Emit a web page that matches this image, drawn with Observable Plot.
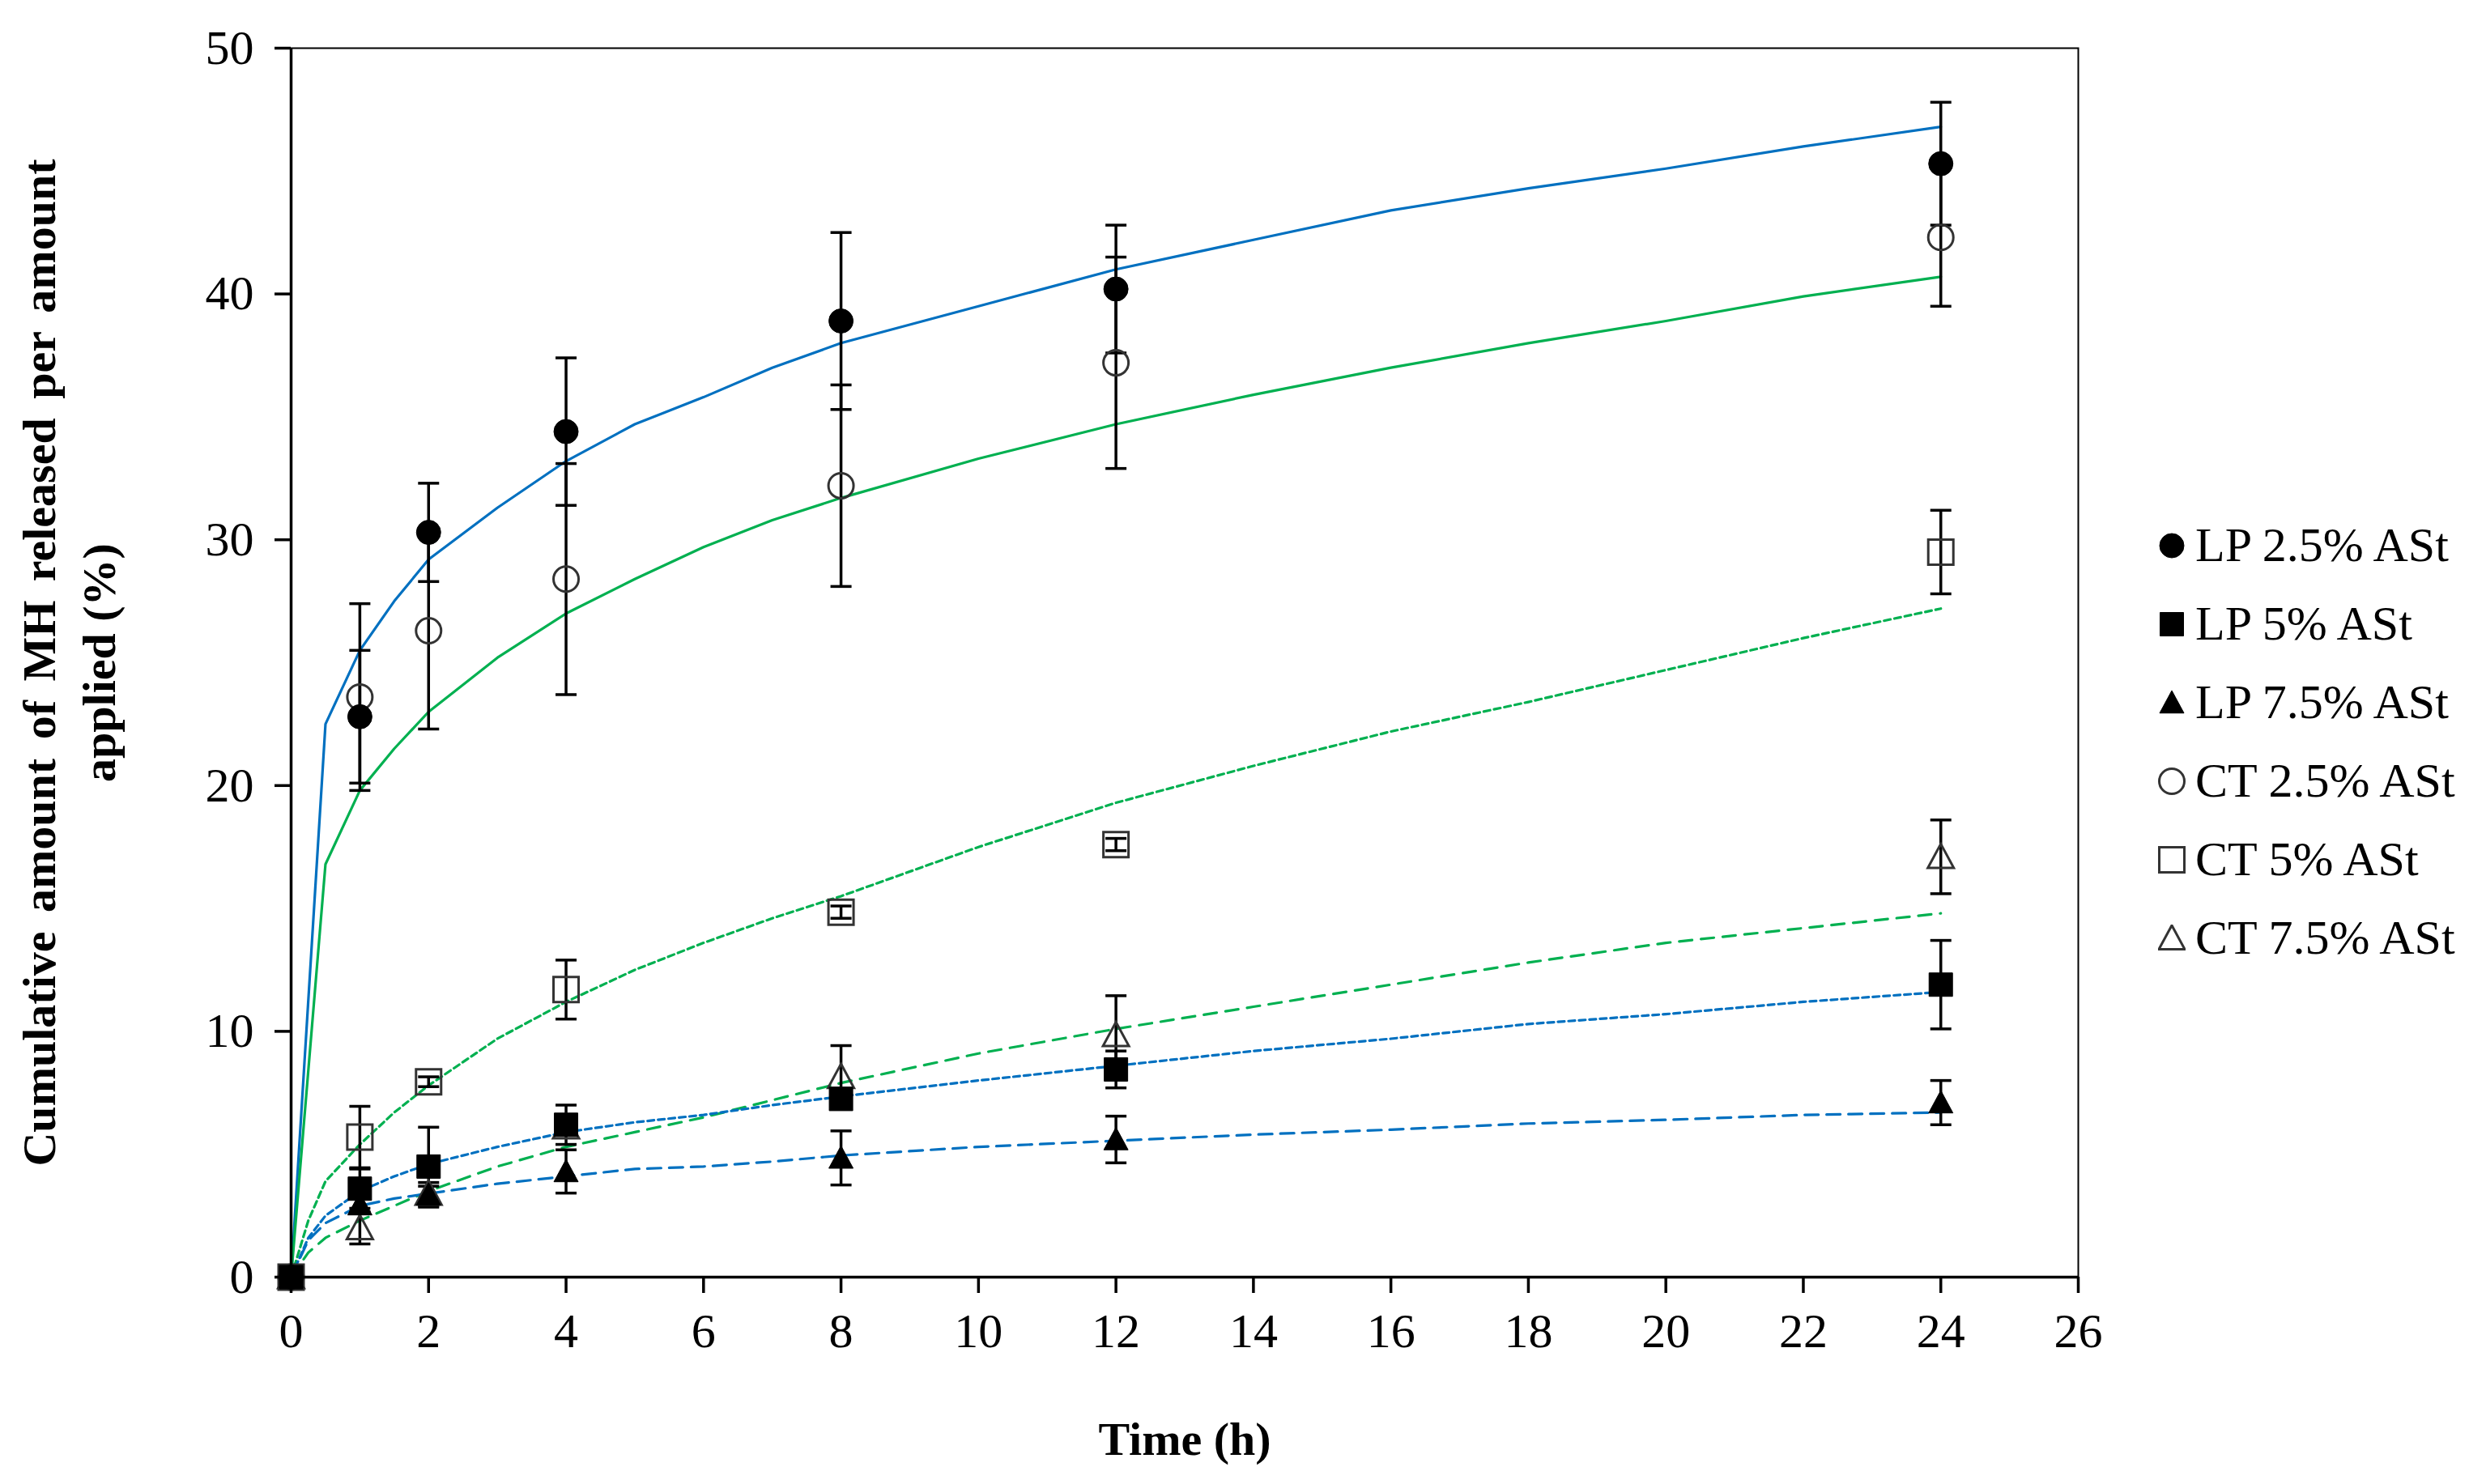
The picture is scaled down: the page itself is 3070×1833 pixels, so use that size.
<!DOCTYPE html>
<html>
<head>
<meta charset="utf-8">
<script src="https://cdn.jsdelivr.net/npm/d3@7"></script>
<script src="https://cdn.jsdelivr.net/npm/@observablehq/plot@0.6"></script>
<style>
  html, body { margin: 0; padding: 0; background: #fff; }
  #wrap { position: relative; width: 3070px; height: 1833px; background: #fff; }
  #chart { position: absolute; left: 0; top: 0; }
  #legend { position: absolute; left: 2665px; top: 625px; font-family: "Liberation Serif", "Times New Roman", serif; font-size: 60px; color: #000; }
  .row { height: 97px; display: flex; align-items: center; white-space: nowrap; }
  .row svg { width: 34px; height: 34px; margin-right: 12px; flex: none; }
</style>
</head>
<body>
<div id="wrap">
  <div id="chart"></div>
  <div id="legend"></div>
</div>
<script>
// ---------- data ----------
const seriesNames = ["LP 2.5% ASt", "LP 5% ASt", "LP 7.5% ASt", "CT 2.5% ASt", "CT 5% ASt", "CT 7.5% ASt"];
const times = [0, 1, 2, 4, 8, 12, 24];

const lp25Mean = [0, 22.8, 30.3, 34.4, 38.9, 40.2, 45.3];
const lp25Sd   = [0, 2.7, 2.0, 3.0, 3.6, 2.6, 2.5];
const lp5Mean  = [0, 3.6, 4.5, 6.2, 7.25, 8.45, 11.9];
const lp5Sd    = [0, 0.8, 1.6, 0.8, 0.4, 0.75, 1.8];
const lp75Mean = [0, 2.95, 3.35, 4.3, 4.85, 5.6, 7.1];
const lp75Sd   = [0, 0.3, 0.5, 0.88, 1.1, 0.95, 0.9];
const ct25Mean = [0, 23.6, 26.3, 28.4, 32.2, 37.2, 42.3];
const ct25Sd   = [0, 3.8, 4.0, 4.7, 4.1, 4.3, 2.8];
const ct5Mean  = [0, 5.7, 7.95, 11.7, 14.85, 17.6, 29.5];
const ct5Sd    = [0, 1.25, 0.2, 1.2, 0.25, 0.25, 1.7];
const ct75Mean = [0, 2.0, 3.4, 6.1, 8.15, 9.85, 17.1];
const ct75Sd   = [0, 0.65, 0.3, 0.3, 1.27, 1.6, 1.5];

// fitted model curves
const solidT = [0, 0.5, 1, 1.5, 2, 3, 4, 5, 6, 7, 8, 10, 12, 14, 16, 18, 20, 22, 24];
const fitLp25 = [0, 22.5, 25.5, 27.5, 29.2, 31.3, 33.2, 34.7, 35.8, 37.0, 38.0, 39.5, 41.0, 42.2, 43.4, 44.3, 45.1, 46.0, 46.8];
const fitCt25 = [0, 16.8, 19.8, 21.5, 23.0, 25.2, 27.0, 28.4, 29.7, 30.8, 31.7, 33.3, 34.7, 35.9, 37.0, 38.0, 38.9, 39.9, 40.7];
const dashT = [0, 0.25, 0.5, 1, 1.5, 2, 3, 4, 5, 6, 7, 8, 10, 12, 14, 16, 18, 20, 22, 24];
const fitCt5  = [0, 2.3, 3.9, 5.4, 6.7, 7.8, 9.7, 11.2, 12.5, 13.6, 14.6, 15.5, 17.5, 19.3, 20.8, 22.2, 23.4, 24.7, 26.0, 27.2];
const fitCt75 = [0, 1.0, 1.6, 2.3, 2.9, 3.5, 4.5, 5.3, 5.9, 6.5, 7.2, 7.9, 9.1, 10.1, 11.0, 11.9, 12.8, 13.6, 14.2, 14.8];
const fitLp5  = [0, 1.6, 2.5, 3.5, 4.1, 4.6, 5.3, 5.9, 6.3, 6.6, 7.0, 7.35, 8.0, 8.6, 9.2, 9.7, 10.3, 10.7, 11.2, 11.6];
const fitLp75 = [0, 1.5, 2.2, 2.9, 3.2, 3.4, 3.8, 4.1, 4.4, 4.5, 4.7, 4.95, 5.3, 5.55, 5.8, 6.0, 6.25, 6.4, 6.6, 6.7];

const xTicks = [0, 2, 4, 6, 8, 10, 12, 14, 16, 18, 20, 22, 24, 26];
const yTicks = [0, 10, 20, 30, 40, 50];
const yTitle1 = "Cumulative amount of MH released per amount";
const yTitle2 = "applied (%)";
const xTitle = "Time (h)";

// ---------- symbols ----------
const symCircle = {draw(ctx, size) { const r = Math.sqrt(size / Math.PI); ctx.moveTo(r, 0); ctx.arc(0, 0, r, 0, 2 * Math.PI); ctx.closePath(); }};
const symSquare = {draw(ctx, size) { const r = Math.sqrt(size / Math.PI); ctx.rect(-r, -r, 2 * r, 2 * r); }};
const symTriangle = {draw(ctx, size) { const r = Math.sqrt(size / Math.PI); ctx.moveTo(0, -r); ctx.lineTo(r, r * 0.85); ctx.lineTo(-r, r * 0.85); ctx.closePath(); }};
const symCap = {draw(ctx, size) { const r = Math.sqrt(size / Math.PI); ctx.moveTo(-r, 0); ctx.lineTo(r, 0); }};

// ---------- build tables ----------
const obsDefs = [
  {name: seriesNames[0], mean: lp25Mean, sd: lp25Sd, sym: symCircle, filled: true, r: 15},
  {name: seriesNames[1], mean: lp5Mean, sd: lp5Sd, sym: symSquare, filled: true, r: 14.5},
  {name: seriesNames[2], mean: lp75Mean, sd: lp75Sd, sym: symTriangle, filled: true, r: 15},
  {name: seriesNames[3], mean: ct25Mean, sd: ct25Sd, sym: symCircle, filled: false, r: 15.5},
  {name: seriesNames[4], mean: ct5Mean, sd: ct5Sd, sym: symSquare, filled: false, r: 15.5},
  {name: seriesNames[5], mean: ct75Mean, sd: ct75Sd, sym: symTriangle, filled: false, r: 16}
];
const obsRows = obsDefs.flatMap(s => times.map((t, i) => ({name: s.name, t, v: s.mean[i], sd: s.sd[i]})));
const errRows = obsRows.filter(d => d.sd > 0);

const BLUE = "#0070C0", GREEN = "#00B050";
const fitDefs = [
  {t: solidT, v: fitLp25, stroke: BLUE, dash: null},
  {t: solidT, v: fitCt25, stroke: GREEN, dash: null},
  {t: dashT, v: fitCt5, stroke: GREEN, dash: "8,5"},
  {t: dashT, v: fitCt75, stroke: GREEN, dash: "16,11"},
  {t: dashT, v: fitLp5, stroke: BLUE, dash: "8,5"},
  {t: dashT, v: fitLp75, stroke: BLUE, dash: "17,10"}
];

const lineMarks = fitDefs.map(f => Plot.line(f.t.map((t, i) => ({t, v: f.v[i]})), {
  x: "t", y: "v", stroke: f.stroke, strokeWidth: 3.2, strokeDasharray: f.dash ?? undefined
}));

// draw order: CT first, then LP; LP 5% last
const drawOrder = [5, 4, 3, 2, 0, 1];
const dotMarks = drawOrder.map(k => {
  const s = obsDefs[k];
  const rows = obsRows.filter(d => d.name === s.name);
  return Plot.dot(rows, {
    x: "t", y: "v", symbol: s.sym, r: s.r,
    fill: s.filled ? "black" : "none",
    stroke: s.filled ? "black" : "#333",
    strokeWidth: s.filled ? 1 : 3
  });
});

const FONT = "Liberation Serif, Times New Roman, serif";

const chart = Plot.plot({
  width: 2660,
  height: 1833,
  marginLeft: 359,
  marginRight: 94,
  marginTop: 59,
  marginBottom: 256,
  style: {fontFamily: FONT, fontSize: "60px", color: "black", background: "white", overflow: "visible"},
  x: {domain: [0, 26]},
  y: {domain: [0, 50]},
  marks: [
    Plot.frame({stroke: "black", strokeWidth: 2}),
    ...lineMarks,
    Plot.ruleX(errRows, {x: "t", y1: d => d.v - d.sd, y2: d => d.v + d.sd, stroke: "black", strokeWidth: 3.5}),
    Plot.dot(errRows, {x: "t", y: d => d.v + d.sd, symbol: symCap, r: 13, stroke: "black", strokeWidth: 3.5, fill: "none"}),
    Plot.dot(errRows, {x: "t", y: d => d.v - d.sd, symbol: symCap, r: 13, stroke: "black", strokeWidth: 3.5, fill: "none"}),
    ...dotMarks,
    Plot.ruleX([0], {stroke: "black", strokeWidth: 3.5}),
    Plot.ruleY([0], {stroke: "black", strokeWidth: 3.5}),
    Plot.axisX({ticks: xTicks, tickSize: 20, tickPadding: 24, strokeWidth: 3.5, label: null, fontSize: 60, fontFamily: FONT, tickFormat: d => String(d)}),
    Plot.axisY({ticks: yTicks, tickSize: 20, tickPadding: 26, strokeWidth: 3.5, label: null, fontSize: 60, fontFamily: FONT, tickFormat: d => String(d)}),
    Plot.text([yTitle1], {text: d => d, frameAnchor: "left", rotate: -90, dx: -310, fontWeight: "bold", fontSize: 58, fontFamily: FONT, textAnchor: "middle", lineAnchor: "middle", fill: "black"}),
    Plot.text([yTitle2], {text: d => d, frameAnchor: "left", rotate: -90, dx: -236, fontWeight: "bold", fontSize: 58, fontFamily: FONT, textAnchor: "middle", lineAnchor: "middle", fill: "black"}),
    Plot.text([xTitle], {text: d => d, frameAnchor: "bottom", dy: 201, fontWeight: "bold", fontSize: 58, fontFamily: FONT, textAnchor: "middle", lineAnchor: "middle", fill: "black"})
  ]
});
// widen the word gaps of the long y title, as in the original
d3.select(chart).selectAll("text").filter(function() { return this.textContent === yTitle1; }).style("word-spacing", "9px");
document.getElementById("chart").appendChild(chart);

// ---------- legend ----------
const legend = document.getElementById("legend");
const svgNS = "http://www.w3.org/2000/svg";
obsDefs.forEach(s => {
  const row = document.createElement("div");
  row.className = "row";
  const svg = document.createElementNS(svgNS, "svg");
  svg.setAttribute("viewBox", "-17 -17 34 34");
  const path = document.createElementNS(svgNS, "path");
  const p = d3.path();
  s.sym.draw(p, Math.PI * s.r * s.r);
  path.setAttribute("d", p.toString());
  path.setAttribute("fill", s.filled ? "black" : "none");
  path.setAttribute("stroke", s.filled ? "black" : "#333");
  path.setAttribute("stroke-width", s.filled ? 1 : 3);
  svg.appendChild(path);
  row.appendChild(svg);
  const span = document.createElement("span");
  span.textContent = s.name;
  row.appendChild(span);
  legend.appendChild(row);
});
</script>
</body>
</html>
